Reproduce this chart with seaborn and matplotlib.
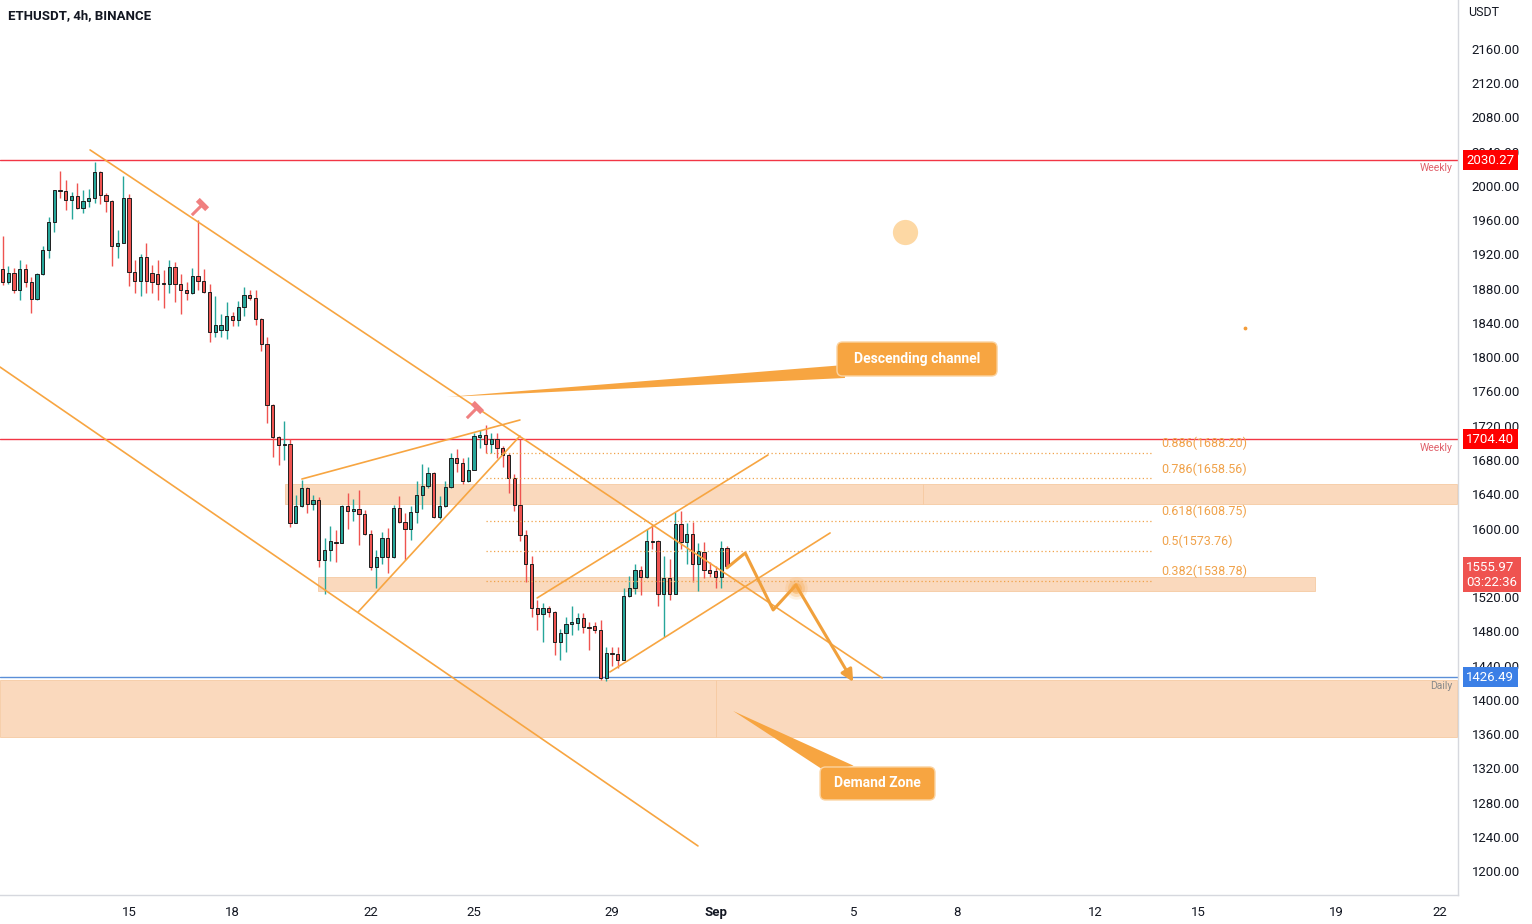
import numpy as np
import pandas as pd
import matplotlib
matplotlib.use("Agg")
import matplotlib.pyplot as plt
import matplotlib.dates as mdates
import matplotlib.transforms as mtransforms
from matplotlib.patches import Rectangle, Polygon, FancyBboxPatch
from matplotlib.path import Path
import seaborn as sns

# ETHUSDT 4h candles, 2022-08-11 08:00 .. 2022-09-01 08:00
start = "2022-08-11 08:00"
opens = [1903, 1888, 1898, 1879, 1903, 1888, 1868, 1897, 1925, 1958,
         1995, 1994, 1984, 1988, 1974, 1983, 1986, 2016, 1990, 1983,
         1930, 1934, 1986, 1899, 1889, 1917, 1898, 1897, 1886, 1885,
         1905, 1886, 1879, 1875, 1895, 1889, 1876, 1829, 1832, 1832,
         1848, 1844, 1859, 1873, 1869, 1845, 1816, 1744, 1707, 1697,
         1699, 1607, 1626, 1647, 1629, 1633, 1563, 1575, 1584, 1583,
         1626, 1620, 1623, 1617, 1594, 1555, 1567, 1589, 1567, 1624,
         1608, 1600, 1619, 1639, 1650, 1665, 1613, 1626, 1649, 1682,
         1677, 1655, 1668, 1707, 1709, 1699, 1705, 1694, 1686, 1659,
         1627, 1592, 1559, 1507, 1500, 1507, 1503, 1468, 1478, 1489,
         1490, 1495, 1485, 1486, 1482, 1425, 1455, 1453, 1447, 1521,
         1530, 1551, 1543, 1585, 1585, 1524, 1542, 1524, 1605, 1584,
         1594, 1559, 1573, 1552, 1550, 1543, 1577]
highs = [1942, 1907, 1904, 1914, 1909, 1894, 1898, 1930, 1964, 1995,
         2018, 2007, 1993, 2004, 1995, 1996, 2028, 2017, 1992, 1984,
         1949, 2012, 1991, 1913, 1921, 1933, 1908, 1914, 1902, 1914,
         1911, 1897, 1888, 1904, 1960, 1903, 1886, 1871, 1851, 1865,
         1853, 1866, 1882, 1879, 1879, 1846, 1824, 1745, 1708, 1725,
         1704, 1639, 1657, 1648, 1639, 1637, 1589, 1603, 1598, 1627,
         1641, 1635, 1645, 1622, 1598, 1575, 1596, 1601, 1628, 1638,
         1618, 1626, 1655, 1675, 1672, 1666, 1638, 1655, 1688, 1693,
         1682, 1683, 1712, 1715, 1721, 1712, 1711, 1696, 1688, 1664,
         1705, 1598, 1568, 1517, 1513, 1510, 1504, 1483, 1497, 1510,
         1501, 1501, 1491, 1491, 1493, 1462, 1462, 1462, 1531, 1544,
         1559, 1556, 1600, 1605, 1586, 1568, 1564, 1619, 1620, 1607,
         1608, 1583, 1584, 1561, 1556, 1585, 1579]
lows = [1884, 1886, 1875, 1867, 1882, 1852, 1867, 1896, 1916, 1946,
        1986, 1972, 1962, 1973, 1968, 1976, 1980, 1979, 1970, 1906,
        1916, 1934, 1883, 1875, 1872, 1875, 1875, 1867, 1857, 1875,
        1864, 1851, 1867, 1874, 1879, 1875, 1818, 1824, 1824, 1821,
        1836, 1836, 1848, 1867, 1838, 1807, 1723, 1684, 1674, 1680,
        1602, 1606, 1625, 1618, 1622, 1555, 1524, 1562, 1561, 1583,
        1600, 1609, 1581, 1592, 1552, 1530, 1559, 1548, 1565, 1606,
        1563, 1587, 1606, 1623, 1647, 1612, 1611, 1625, 1647, 1666,
        1652, 1654, 1668, 1694, 1688, 1688, 1682, 1672, 1641, 1620,
        1585, 1538, 1497, 1482, 1468, 1497, 1452, 1447, 1456, 1476,
        1481, 1478, 1458, 1478, 1423, 1422, 1439, 1437, 1446, 1520,
        1524, 1522, 1542, 1576, 1509, 1473, 1516, 1523, 1576, 1559,
        1538, 1527, 1542, 1543, 1530, 1531, 1554]
closes = [1888, 1898, 1879, 1903, 1888, 1868, 1897, 1925, 1958, 1995,
          1994, 1984, 1988, 1974, 1983, 1986, 2016, 1990, 1983, 1930,
          1934, 1986, 1899, 1889, 1917, 1889, 1888, 1886, 1885, 1905,
          1886, 1879, 1875, 1895, 1889, 1876, 1829, 1838, 1838, 1848,
          1844, 1859, 1873, 1869, 1845, 1816, 1744, 1707, 1698, 1699,
          1607, 1626, 1647, 1629, 1633, 1563, 1575, 1585, 1583, 1626,
          1620, 1623, 1617, 1594, 1555, 1567, 1589, 1567, 1624, 1608,
          1600, 1619, 1639, 1650, 1665, 1613, 1626, 1649, 1682, 1677,
          1655, 1668, 1708, 1709, 1699, 1705, 1694, 1686, 1659, 1627,
          1592, 1559, 1507, 1500, 1507, 1503, 1468, 1478, 1489, 1491,
          1495, 1485, 1484, 1482, 1425, 1455, 1453, 1447, 1521, 1530,
          1551, 1543, 1585, 1584, 1524, 1542, 1524, 1605, 1584, 1594,
          1559, 1574, 1552, 1548, 1543, 1577, 1555.97]

price_ticks = list(range(1200, 2161, 40))
hidden_ticks = [1560]  # covered by the last-price label on the chart
date_ticks = ["2022-08-15", "2022-08-18", "2022-08-22", "2022-08-25", "2022-08-29",
              "2022-09-01", "2022-09-05", "2022-09-08", "2022-09-12", "2022-09-15",
              "2022-09-19", "2022-09-22"]
date_labels = ["15", "18", "22", "25", "29", "Sep", "5", "8", "12", "15", "19", "22"]

# horizontal levels
weekly_levels = [2030.27, 1704.40]
daily_level = 1426.49
last_price = 1555.97
countdown = "03:22:36"

# drawings: day offsets from 2022-08-15 00:00 and prices
channel_top = ([-1.13, 21.83], [2042.1, 1425.4])
channel_bot = ([-3.74, 16.49], [1788.6, 1229.3])
wedge_top = ([5.01, 11.33], [1657.8, 1726.7])
wedge_bot = ([6.64, 11.33], [1502.5, 1708.0])
rise_top = ([11.83, 18.52], [1518.9, 1685.9])
rise_bot = ([13.94, 20.32], [1432.5, 1594.8])
path_days = [17.33, 17.86, 18.67, 19.33, 20.99]
path_prices = [1554, 1571.4, 1504.9, 1534, 1420.8]

fib_ratios = ["0.886", "0.786", "0.618", "0.5", "0.382"]
fib_prices = [1688.20, 1658.56, 1608.75, 1573.76, 1538.78]
fib_span = (10.35, 29.65)

# zones: (day0, day1, price_low, price_high)
zones = [(-3.74, 17.01, 1356.6, 1423.1), (17.01, 38.5, 1356.6, 1423.1),
         (4.52, 23.01, 1628.6, 1652.0), (23.01, 38.5, 1628.6, 1652.0),
         (5.48, 34.38, 1527.0, 1543.4)]

UP = "#26a69a"
DOWN = "#ef5350"
ORANGE = "#f7a541"
ZONE = "#fad9bd"

sns.set_theme(style="white")
plt.rcParams['font.family'] = ['Roboto', 'DejaVu Sans']

fig = plt.figure(figsize=(15.32, 9.24), dpi=100)
ax = fig.add_axes([0, 29 / 924, 1458 / 1532, 1 - 29 / 924])

base = mdates.date2num(pd.Timestamp("2022-08-15"))
def X(days):
    return base + np.asarray(days, dtype=float)

# zones
for d0, d1, lo, hi in zones:
    ax.add_patch(Rectangle((X(d0), lo), d1 - d0, hi - lo, facecolor=ZONE,
                           edgecolor="#f6caa2", lw=0.6, zorder=1))

# candles
t = mdates.date2num(pd.date_range(start, periods=len(opens), freq="4h"))
o, h, l, c = (np.array(v, dtype=float) for v in (opens, highs, lows, closes))
col = np.where(c >= o, UP, DOWN)
ax.vlines(t, l, h, colors=col, lw=1.0, zorder=3)
ax.bar(t, np.maximum(np.abs(c - o), 1.5), bottom=np.minimum(o, c), width=0.095,
       color=col, edgecolor="#1e1e1e", linewidth=0.7, zorder=4)

# horizontal levels
for lv in weekly_levels:
    ax.axhline(lv, color="#f23645", lw=1.0, zorder=2)
    ax.text(X(38.35), lv - 4, "Weekly", color="#e0606a", fontsize=7.5,
            ha="right", va="top", zorder=5)
ax.axhline(daily_level, color="#5b8fd8", lw=1.0, zorder=2)
ax.text(X(38.35), daily_level - 4, "Daily", color="#8a8a8a", fontsize=7.5,
        ha="right", va="top", zorder=5)

# trend lines
for xs, ys in (channel_top, channel_bot, wedge_top, wedge_bot, rise_top, rise_bot):
    sns.lineplot(x=X(xs), y=ys, ax=ax, color=ORANGE, lw=1.2, zorder=5, sort=False)

# fib levels
for r, p in zip(fib_ratios, fib_prices):
    ax.plot(X(fib_span), [p, p], color="#f0a24a", lw=0.9, ls=(0, (1, 2)), zorder=5)
    ax.text(X(fib_span[1] + 0.26), p + 3, f"{r}({p:.2f})", color="#f0a24a",
            fontsize=9, ha="left", va="bottom", zorder=6)

# projected path
sns.lineplot(x=X(path_days[:-1]), y=path_prices[:-1], ax=ax, color="#f0a03c",
             lw=2.2, zorder=6, sort=False)
ax.annotate("", xy=(X(path_days[-1]), path_prices[-1]),
            xytext=(X(path_days[-2]), path_prices[-2]),
            arrowprops=dict(arrowstyle="-|>,head_length=0.6,head_width=0.3",
                            color="#f0a03c", lw=2.2, shrinkA=0, shrinkB=0), zorder=6)

# glow dot and dots
for s, a in ((260, 0.15), (150, 0.25), (60, 0.45)):
    ax.scatter([X(19.33)], [1530.6], s=s, color="#f7a541", alpha=a, lw=0, zorder=6)
sns.scatterplot(x=[X(22.49)], y=[1946.3], ax=ax, s=330, color="#fdd8a4", lw=0, zorder=6)
ax.scatter([X(32.35)], [1834.2], s=3, color="#f39c39", zorder=6)

# hammer icons
handle = Path([(-1, -1), (0.35, 0.35)], [Path.MOVETO, Path.LINETO])
head = Path([(-0.2, 0.9), (0.9, -0.2)], [Path.MOVETO, Path.LINETO])
for hd, hp in ((2.03, 1975.5), (10.0, 1738.4)):
    ax.plot([X(hd)], [hp], marker=handle, ms=11, mew=2.2, color="#f08080", zorder=7)
    ax.plot([X(hd)], [hp], marker=head, ms=11, mew=4, color="#f08080", zorder=7)

# callouts
asp = (5 / 0.856) / (5 / 34.5)
def callout(d0, d1, p0, p1, text, tip):
    ax.add_patch(Polygon([(X(tip[0][0]), tip[0][1]), (X(tip[1][0]), tip[1][1]),
                          (X(tip[2][0]), tip[2][1])], closed=True,
                         facecolor=ORANGE, edgecolor="none", zorder=7))
    ax.add_patch(FancyBboxPatch((X(d0), p0), d1 - d0, p1 - p0,
                                boxstyle="round,pad=0,rounding_size=0.16",
                                mutation_aspect=asp, facecolor=ORANGE,
                                edgecolor="#fbd3a0", lw=1.0, zorder=8))
    ax.text(X((d0 + d1) / 2), (p0 + p1) / 2, text, color="white", fontsize=10,
            fontweight="bold", ha="center", va="center", zorder=9)

callout(20.52, 25.16, 1778.1, 1817.8, "Descending channel",
        [(9.22, 1753.6), (20.75, 1791.0), (20.75, 1775.8)])
callout(20.03, 23.36, 1283.0, 1321.5, "Demand Zone",
        [(17.51, 1386.9), (20.2, 1316.0), (21.0, 1323.0)])

# axes
ax.set_xlim(X(-3.74), X(38.52))
ax.set_ylim(1172, 2217.2)
ax.yaxis.tick_right()
ax.set_yticks(price_ticks)
ax.set_yticklabels(["" if p in hidden_ticks else f"{p:.2f}" for p in price_ticks])
ax.set_xticks(mdates.date2num(pd.to_datetime(date_ticks)))
ax.set_xticklabels(date_labels)
for lab in ax.get_xticklabels():
    if lab.get_text() == "Sep":
        lab.set_fontweight("bold")
ax.tick_params(axis="y", length=0, pad=10, labelsize=9.5, labelcolor="#131722")
ax.tick_params(axis="x", length=0, pad=8, labelsize=9.5, labelcolor="#131722")
for side in ("top", "left"):
    ax.spines[side].set_visible(False)
for side in ("right", "bottom"):
    ax.spines[side].set_color("#d6d8de")
    ax.spines[side].set_linewidth(1.0)
ax.grid(False)

# axis price labels
tr = mtransforms.blended_transform_factory(ax.transAxes, ax.transData)
def axis_label(price, text, fc, dy=0):
    ax.annotate(text, xy=(1, price), xycoords=tr, xytext=(6, dy), textcoords="offset points",
                color="white", fontsize=9.5, ha="left", va="center", annotation_clip=False,
                bbox=dict(boxstyle="square,pad=0.28", fc=fc, ec="none"), zorder=10)

for lv in weekly_levels:
    axis_label(lv, f"{lv:.2f}", "#ff0000")
axis_label(daily_level, f"{daily_level:.2f}", "#3b7fe6")
axis_label(last_price, f"{last_price:.2f}\n{countdown}", "#ef5350", dy=-6)

fig.text(8 / 1532, 1 - 16 / 924, "ETHUSDT, 4h, BINANCE", fontsize=9.5,
         fontweight="bold", color="#131722", ha="left", va="center")
fig.text(1468 / 1532, 1 - 13 / 924, "USDT", fontsize=9, color="#131722",
         ha="left", va="center")

fig.savefig("out.png", dpi=100, facecolor="white")
